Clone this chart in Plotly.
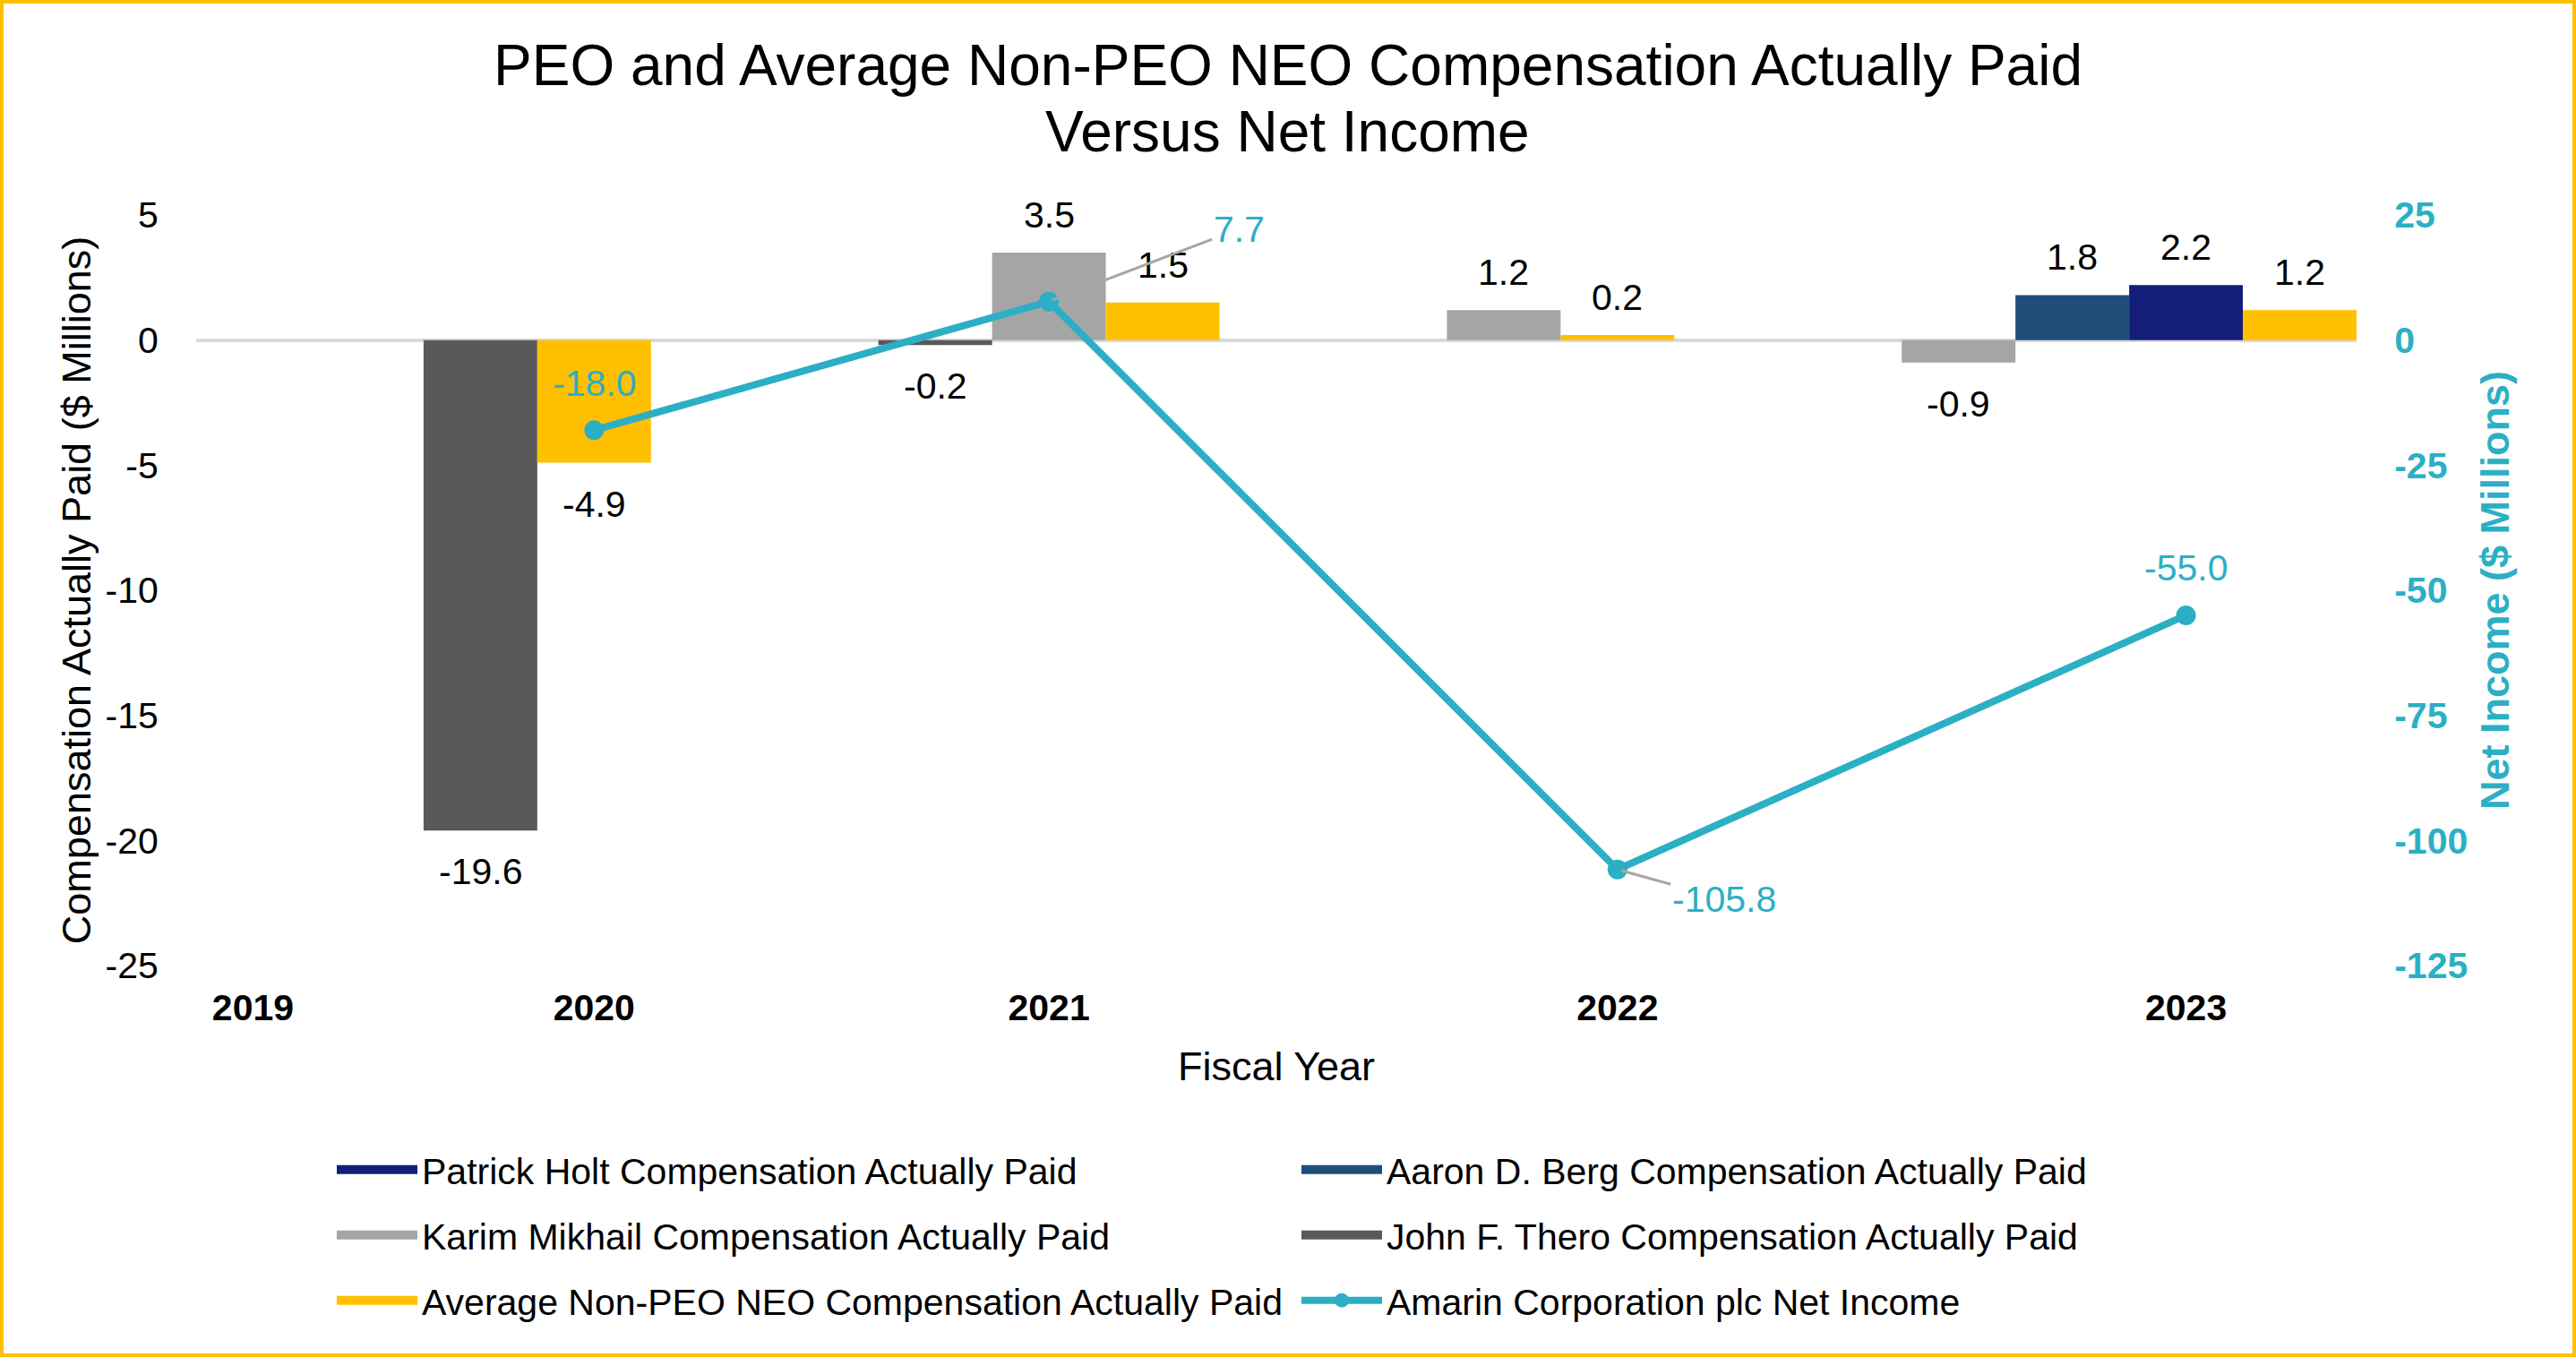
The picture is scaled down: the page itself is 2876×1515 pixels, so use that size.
import plotly.graph_objects as go

# ---------------- data ----------------
years = ['2019', '2020', '2021', '2022', '2023']
patrick_holt = [None, None, None, None, 2.2]
aaron_berg = [None, None, None, None, 1.8]
karim_mikhail = [None, None, 3.5, 1.2, -0.9]
john_thero = [None, -19.6, -0.2, None, None]
avg_non_peo = [None, -4.9, 1.5, 0.2, 1.2]
net_income = [None, -18.0, 7.7, -105.8, -55.0]

left_ticks = [-25, -20, -15, -10, -5, 0, 5]
right_ticks = [-125, -100, -75, -50, -25, 0, 25]

series_names = {
    'patrick': 'Patrick Holt Compensation Actually Paid',
    'aaron': 'Aaron D. Berg Compensation Actually Paid',
    'karim': 'Karim Mikhail Compensation Actually Paid',
    'john': 'John F. Thero Compensation Actually Paid',
    'avg': 'Average Non-PEO NEO Compensation Actually Paid',
}
line_name = 'Amarin Corporation plc Net Income'
title_lines = ['PEO and Average Non-PEO NEO Compensation Actually Paid', 'Versus Net Income']

# ---------------- style ----------------
FONT = 'Liberation Sans, Arial, sans-serif'
TEAL = '#2CAFC4'
colors = {
    'patrick': '#141E7A',
    'aaron': '#1F4E79',
    'karim': '#A5A5A5',
    'john': '#595959',
    'avg': '#FFC000',
}
values = {
    'patrick': patrick_holt,
    'aaron': aaron_berg,
    'karim': karim_mikhail,
    'john': john_thero,
    'avg': avg_non_peo,
}
bar_order = ['john', 'karim', 'aaron', 'patrick', 'avg']   # left-to-right inside a year
legend_order = ['patrick', 'aaron', 'karim', 'john', 'avg']
legend_of = {'patrick': 'legend', 'aaron': 'legend', 'karim': 'legend2',
             'john': 'legend2', 'avg': 'legend3'}
GAP = 2  # empty bar slots between year groups

W, H = 2876, 1515
ML, MR, MT, MB = 219, 245, 240, 437
pw = W - ML - MR
ph = H - MT - MB

# ---------------- slot layout (derived from which series have data) ----------------
bar_x = {k: [] for k in bar_order}
bar_y = {k: [] for k in bar_order}
tick_x = []
cursor = 0
for i, yr in enumerate(years):
    present = [k for k in bar_order if values[k][i] is not None]
    for j, k in enumerate(present):
        bar_x[k].append(cursor + j + 0.5)
        bar_y[k].append(values[k][i])
    tick_x.append(cursor + len(present) // 2 + 0.5)
    cursor += len(present) + GAP
x_end = cursor - GAP

fig = go.Figure()
for k in legend_order:
    fig.add_trace(go.Bar(
        x=bar_x[k], y=bar_y[k], width=1, name=series_names[k],
        marker=dict(color=colors[k], line=dict(width=0)),
        yaxis='y', showlegend=False, legendgroup=k,
    ))
    # legend swatch (wide filled rectangle like the original)
    fig.add_trace(go.Scatter(
        x=[None], y=[None], mode='lines', name=series_names[k],
        line=dict(color=colors[k], width=20), legend=legend_of[k], legendgroup=k,
        hoverinfo='skip',
    ))

line_x = [tick_x[i] for i, v in enumerate(net_income) if v is not None]
line_y = [v for v in net_income if v is not None]
fig.add_trace(go.Scatter(
    x=line_x, y=line_y, name=line_name, yaxis='y2', mode='lines+markers',
    line=dict(color=TEAL, width=8), marker=dict(color=TEAL, size=22),
    legend='legend3', cliponaxis=False,
))

annotations = []
# bar value labels
for k in bar_order:
    for xv, yv in zip(bar_x[k], bar_y[k]):
        annotations.append(dict(
            x=xv, y=yv, xref='x', yref='y', text=f'{yv:.1f}', showarrow=False,
            yshift=42 if yv >= 0 else -46, font=dict(family=FONT, size=41, color='black'),
        ))
# line value labels (offsets are style only)
line_label_style = {
    '2020': dict(showarrow=False, yshift=52),
    '2021': dict(showarrow=True, ax=212, ay=-81),
    '2022': dict(showarrow=True, ax=119, ay=33),
    '2023': dict(showarrow=False, yshift=53),
}
for i, v in enumerate(net_income):
    if v is None:
        continue
    st = line_label_style[years[i]]
    a = dict(x=tick_x[i], y=v, xref='x', yref='y2', text=f'{v:.1f}',
             font=dict(family=FONT, size=41, color=TEAL))
    if st['showarrow']:
        a.update(showarrow=True, ax=st['ax'], ay=st['ay'], axref='pixel', ayref='pixel',
                 arrowhead=0, arrowwidth=3, arrowcolor='#A6A6A6', standoff=4)
    else:
        a.update(showarrow=False, yshift=st['yshift'])
    annotations.append(a)

# second title line
annotations.append(dict(text=title_lines[1], xref='paper', yref='paper',
                        x=(W / 2 - ML) / pw, y=(MT + ph - 147) / ph, xanchor='center', yanchor='middle',
                        showarrow=False, font=dict(family=FONT, size=64, color='black')))

border = dict(type='rect', xref='paper', yref='paper',
              x0=(-ML + 2) / pw, x1=1 + (MR - 2) / pw,
              y0=(-MB + 2) / ph, y1=1 + (MT - 2) / ph,
              line=dict(color='#FFC000', width=4), fillcolor='rgba(0,0,0,0)', layer='below')

legend_common = dict(orientation='h', x=(371 - ML) / pw, xanchor='left', yanchor='middle',
                     entrywidth=972, entrywidthmode='pixels', itemwidth=90,
                     font=dict(family=FONT, size=41, color='black'),
                     bgcolor='rgba(0,0,0,0)', borderwidth=0)

fig.update_layout(
    width=W, height=H,
    margin=dict(l=ML, r=MR, t=MT, b=MB, autoexpand=False),
    paper_bgcolor='white', plot_bgcolor='white',
    font=dict(family=FONT, color='black'),
    barmode='overlay',
    title=dict(text=title_lines[0],
               x=0.5, xanchor='center', xref='container', y=1 - 73 / H, yanchor='middle', yref='container',
               font=dict(family=FONT, size=64, color='black')),
    xaxis=dict(range=[0, x_end], tickvals=tick_x, ticktext=years, showgrid=False, zeroline=False,
               showline=False, ticks='outside', ticklen=11, tickcolor='rgba(0,0,0,0)',
               tickfont=dict(family=FONT, size=41, color='black', weight='bold'),
               title=dict(text='Fiscal Year', font=dict(family=FONT, size=45, color='black'), standoff=27)),
    yaxis=dict(range=[-25, 5], tickvals=left_ticks, ticktext=[str(t) for t in left_ticks],
               showgrid=False, zeroline=True,
               zerolinecolor='#D9D9D9', zerolinewidth=4, showline=False,
               ticks='outside', ticklen=33, tickcolor='rgba(0,0,0,0)',
               tickfont=dict(family=FONT, size=41, color='black'),
               title=dict(text='Compensation Actually Paid ($ Millions)',
                          font=dict(family=FONT, size=45, color='black'), standoff=1)),
    yaxis2=dict(range=[-125, 25], tickvals=right_ticks, ticktext=[str(t) for t in right_ticks],
                overlaying='y', side='right',
                showgrid=False, zeroline=False, showline=False,
                ticks='outside', ticklen=33, tickcolor='rgba(0,0,0,0)',
                tickfont=dict(family=FONT, size=41, color=TEAL, weight='bold'),
                title=dict(text='Net Income ($ Millions)',
                           font=dict(family=FONT, size=45, color=TEAL, weight='bold'), standoff=15)),
    legend=dict(legend_common, y=(MT + ph - 1306) / ph),
    legend2=dict(legend_common, y=(MT + ph - 1379) / ph),
    legend3=dict(legend_common, y=(MT + ph - 1452) / ph),
    annotations=annotations,
    shapes=[border],
)

fig.write_html('out.html', config={'displayModeBar': False},
               post_script="document.body.style.margin='0';")
